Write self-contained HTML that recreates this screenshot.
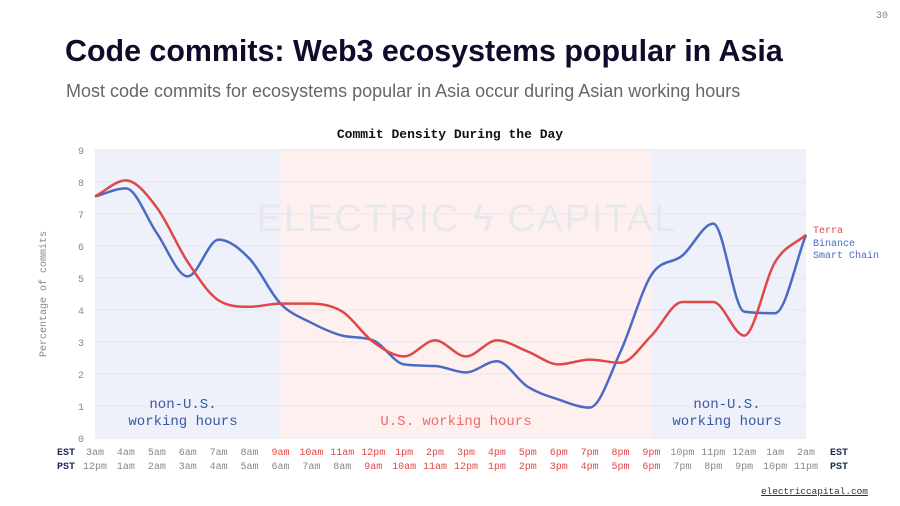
<!DOCTYPE html>
<html><head><meta charset="utf-8"><style>
body{margin:0;width:900px;height:506px;background:#fff;overflow:hidden;position:relative;font-family:"Liberation Sans",sans-serif}
.mono{font-family:"Liberation Mono","DejaVu Sans Mono",monospace}
</style></head><body>
<div class="mono" style="position:absolute;right:12px;top:11px;font-size:10px;color:#888">30</div>
<div style="position:absolute;left:65px;top:34px;font-size:30.4px;font-weight:bold;color:#0d0d2b">Code commits: Web3 ecosystems popular in Asia</div>
<div style="position:absolute;left:66px;top:81px;font-size:18px;color:#666">Most code commits for ecosystems popular in Asia occur during Asian working hours</div>
<div class="mono" style="position:absolute;left:761px;top:486px;font-size:9.4px;color:#333;text-decoration:underline">electriccapital.com</div>
<svg id="chart" width="900" height="506" style="position:absolute;left:0;top:0" font-family="Liberation Mono, monospace"></svg>
<script>
const hoursEST=["3am","4am","5am","6am","7am","8am","9am","10am","11am","12pm","1pm","2pm","3pm","4pm","5pm","6pm","7pm","8pm","9pm","10pm","11pm","12am","1am","2am"];
const hoursPST=["12pm","1am","2am","3am","4am","5am","6am","7am","8am","9am","10am","11am","12pm","1pm","2pm","3pm","4pm","5pm","6pm","7pm","8pm","9pm","10pm","11pm"];
const terra=[7.55,8.05,7.2,5.5,4.3,4.1,4.2,4.2,3.95,3.0,2.55,3.05,2.55,3.05,2.7,2.3,2.45,2.35,3.2,4.25,4.25,3.2,5.5,6.35];
const binance=[7.55,7.8,6.4,5.05,6.2,5.6,4.2,3.6,3.2,3.05,2.3,2.25,2.05,2.4,1.6,1.2,0.95,2.7,5.1,5.7,6.7,3.95,3.9,6.35];
const yTicks=[0,1,2,3,4,5,6,7,8,9];
const usStart=6, usEnd=18;
const svg=document.getElementById('chart');const NS='http://www.w3.org/2000/svg';
const x0=95,x1=806,y0=438,y1=150;
const X=i=>x0+(x1-x0)*i/(hoursEST.length-1);
const Y=v=>y0-(y0-y1)*v/9;
function el(t,a,p){const e=document.createElementNS(NS,t);for(const k in a)e.setAttribute(k,a[k]);(p||svg).appendChild(e);return e;}
let r;
r=el('rect',{x:X(0),y:y1,width:X(usStart)-X(0),height:y0-y1,fill:'#eef0fa'});

r=el('rect',{x:X(usStart),y:y1,width:X(usEnd)-X(usStart),height:y0-y1,fill:'#fff0f0'});

r=el('rect',{x:X(usEnd),y:y1,width:X(23)-X(usEnd),height:y0-y1,fill:'#eef0fa'});

yTicks.forEach(v=>{
 const g=el('line',{x1:x0,x2:x1,y1:Y(v),y2:Y(v),stroke:'#e6e6ee','stroke-width':1});
 
 const t=el('text',{x:84,y:Y(v)+4,'font-size':10,fill:'#888','text-anchor':'end'});t.textContent=v;
 
});
let w=el('text',{x:467,y:231,'font-size':38,fill:'#e8e8ec','text-anchor':'middle','font-family':'Liberation Sans, sans-serif','letter-spacing':2});w.textContent='ELECTRIC ϟ CAPITAL';

function path(d){
 const n=d.length,dx=X(1)-X(0);const del=[];for(let i=0;i<n-1;i++)del.push(d[i+1]-d[i]);
 const m=[del[0]];for(let i=1;i<n-1;i++){m.push(del[i-1]*del[i]<=0?0:(del[i-1]+del[i])/2);}m.push(del[n-2]);
 for(let i=0;i<n-1;i++){if(del[i]===0){m[i]=0;m[i+1]=0;continue;}const a=m[i]/del[i],b=m[i+1]/del[i],s=a*a+b*b;if(s>9){const t=3/Math.sqrt(s);m[i]=t*a*del[i];m[i+1]=t*b*del[i];}}
 let s=`M${X(0)},${Y(d[0])}`;for(let i=0;i<n-1;i++){s+=` C${X(i)+dx/3},${Y(d[i]+m[i]/3)} ${X(i+1)-dx/3},${Y(d[i+1]-m[i+1]/3)} ${X(i+1)},${Y(d[i+1])}`;}return s;}
let p=el('path',{d:path(binance),fill:'none',stroke:'#4a6bc4','stroke-width':2.5});

p=el('path',{d:path(terra),fill:'none',stroke:'#e04848','stroke-width':2.5});

function txt(x,y,s,fill,size,anchor,name,weight){const t=el('text',{x:x,y:y,'font-size':size,fill:fill,'text-anchor':anchor||'start'});if(weight)t.setAttribute('font-weight',weight);t.textContent=s;return t;}
txt(450,138,'Commit Density During the Day','#111',13,'middle','chart-title','bold');
const yl=txt(46,294,'Percentage of commits','#888',10,'middle','y-axis-title');yl.setAttribute('transform','rotate(-90 46 294)');
txt(813,233,'Terra','#e04848',10,'start','legend-terra');
txt(813,246,'Binance','#4a6bc4',10,'start','legend-binance');
txt(813,258,'Smart Chain','#4a6bc4',10,'start','legend-binance-2');
txt(183,408,'non-U.S.','#3a58a8',14,'middle','band-label-left');
txt(183,425,'working hours','#3a58a8',14,'middle','band-label-left-2');
txt(456,425,'U.S. working hours','#f06a6a',14,'middle','band-label-us');
txt(727,408,'non-U.S.','#3a58a8',14,'middle','band-label-right');
txt(727,425,'working hours','#3a58a8',14,'middle','band-label-right-2');
txt(57,455,'EST','#1c2a55',10,'start','est-label','bold');
txt(57,469,'PST','#1c2a55',10,'start','pst-label','bold');
txt(830,455,'EST','#1c2a55',10,'start','est-label-right','bold');
txt(830,469,'PST','#1c2a55',10,'start','pst-label-right','bold');
hoursEST.forEach((h,i)=>{const us=i>=usStart&&i<=usEnd;txt(X(i),455,h,us?'#e04848':'#888',10,'middle','x-tick-est');});
hoursPST.forEach((h,i)=>{const us=i>=usStart+3&&i<=usEnd;txt(X(i),469,h,us?'#e04848':'#888',10,'middle','x-tick-pst');});
</script>
</body></html>
